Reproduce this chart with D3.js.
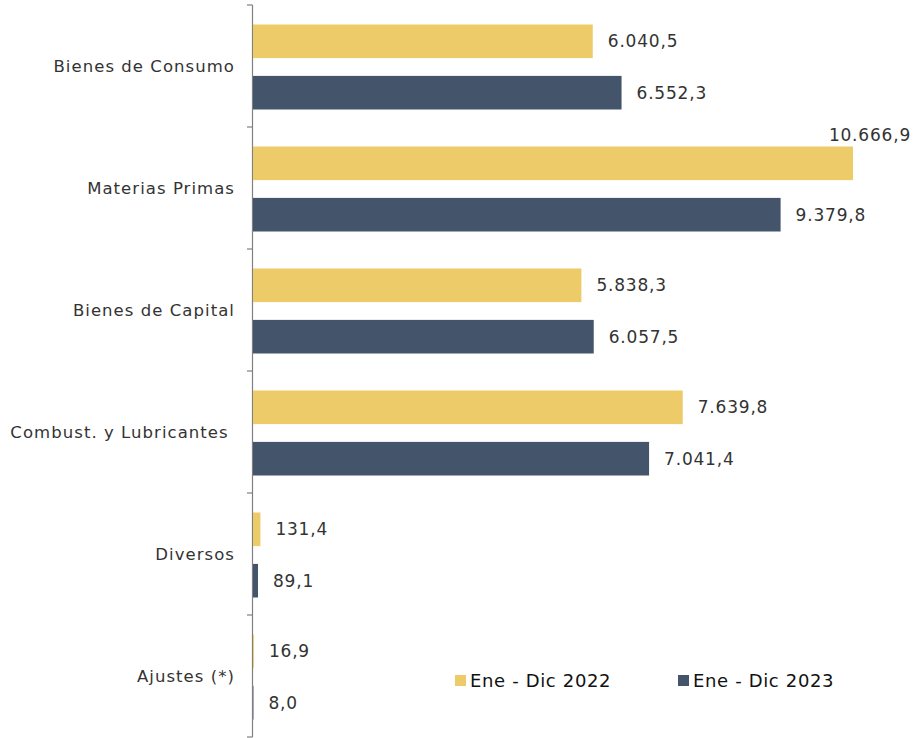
<!DOCTYPE html>
<html>
<head>
<meta charset="utf-8">
<script src="https://cdn.jsdelivr.net/npm/d3@7"></script>
<style>
  body { margin: 0; background: #fff; }
  text { font-family: "DejaVu Sans", sans-serif; }
</style>
</head>
<body>
<div id="chart"></div>
<script>
// Data
const categories = ["Bienes de Consumo", "Materias Primas", "Bienes de Capital", "Combust. y Lubricantes ", "Diversos", "Ajustes (*)"];
const seriesNames = ["Ene - Dic 2022", "Ene - Dic 2023"];
const values2022 = [6040.5, 10666.9, 5838.3, 7639.8, 131.4, 16.9];
const values2023 = [6552.3, 9379.8, 6057.5, 7041.4, 89.1, 8.0];
const colors = ["#EDCB69", "#44546A"];

const width = 913;
const height = 738;

const svg = d3.select("#chart")
    .append("svg")
    .attr("width", width)
    .attr("height", height);

const fmt = (v) => {
    const s = v.toFixed(1).split(".");
    return s[0].replace(/\B(?=(\d{3})+(?!\d))/g, ".") + "," + s[1];
};

// Scales
const x = d3.scaleLinear().domain([0, 10666.9]).range([253, 853]);
const y = d3.scaleBand().domain(categories).range([5, 737]);
const ySub = d3.scaleBand().domain(seriesNames).range([1, y.bandwidth() + 1])
    .paddingInner(0.346).paddingOuter(0.36);

// Axis (left, ticks at band edges)
const axisG = svg.append("g");
axisG.append("line")
    .attr("x1", 252.5).attr("x2", 252.5)
    .attr("y1", 5).attr("y2", 737)
    .attr("stroke", "#808080").attr("stroke-width", 1.2);
const edges = categories.map((c) => y(c)).concat([y.range()[1]]);
axisG.selectAll("line.tick")
    .data(edges)
    .enter()
    .append("line")
    .attr("class", "tick")
    .attr("x1", 247).attr("x2", 252.5)
    .attr("y1", (d) => d).attr("y2", (d) => d)
    .attr("stroke", "#808080").attr("stroke-width", 1.2);

// Category labels
svg.append("g")
    .selectAll("text")
    .data(categories)
    .enter()
    .append("text")
    .attr("x", 235)
    .attr("y", (d) => y(d) + y.bandwidth() / 2)
    .attr("dy", "0.35em")
    .attr("text-anchor", "end")
    .style("white-space", "pre")
    .style("font-size", "16.5px")
    .style("letter-spacing", "1.05px")
    .style("fill", "#333")
    .text((d) => d);

// Bars
const rows = [];
categories.forEach((c, i) => {
    rows.push({ cat: c, series: seriesNames[0], value: values2022[i], color: colors[0] });
    rows.push({ cat: c, series: seriesNames[1], value: values2023[i], color: colors[1] });
});

svg.append("g")
    .selectAll("rect")
    .data(rows)
    .enter()
    .append("rect")
    .attr("x", x(0))
    .attr("y", (d) => y(d.cat) + ySub(d.series))
    .attr("width", (d) => x(d.value) - x(0))
    .attr("height", ySub.bandwidth())
    .style("fill", (d) => d.color);

// Value labels
svg.append("g")
    .selectAll("text")
    .data(rows)
    .enter()
    .append("text")
    .each(function (d) {
        const t = d3.select(this);
        const cy = y(d.cat) + ySub(d.series) + ySub.bandwidth() / 2;
        if (x(d.value) + 15 + 75 > width) {
            // no room on the right: place above, right aligned
            t.attr("x", 911).attr("y", cy - 28).attr("text-anchor", "end");
        } else {
            t.attr("x", Math.max(x(d.value), 253) + 15).attr("y", cy).attr("text-anchor", "start");
        }
    })
    .attr("dy", "0.35em")
    .style("font-size", "17px")
    .style("letter-spacing", "0.8px")
    .style("fill", "#333")
    .text((d) => fmt(d.value));

// Legend
const legend = svg.append("g");
const legendX = [455, 678];
seriesNames.forEach((s, i) => {
    legend.append("rect")
        .attr("x", legendX[i]).attr("y", 675)
        .attr("width", 11).attr("height", 11)
        .style("fill", colors[i]);
    legend.append("text")
        .attr("x", legendX[i] + 15).attr("y", 680.5)
        .attr("dy", "0.35em")
        .style("font-size", "18px")
        .style("letter-spacing", "0.65px")
        .style("fill", "#111")
        .text(s);
});
</script>
</body>
</html>
